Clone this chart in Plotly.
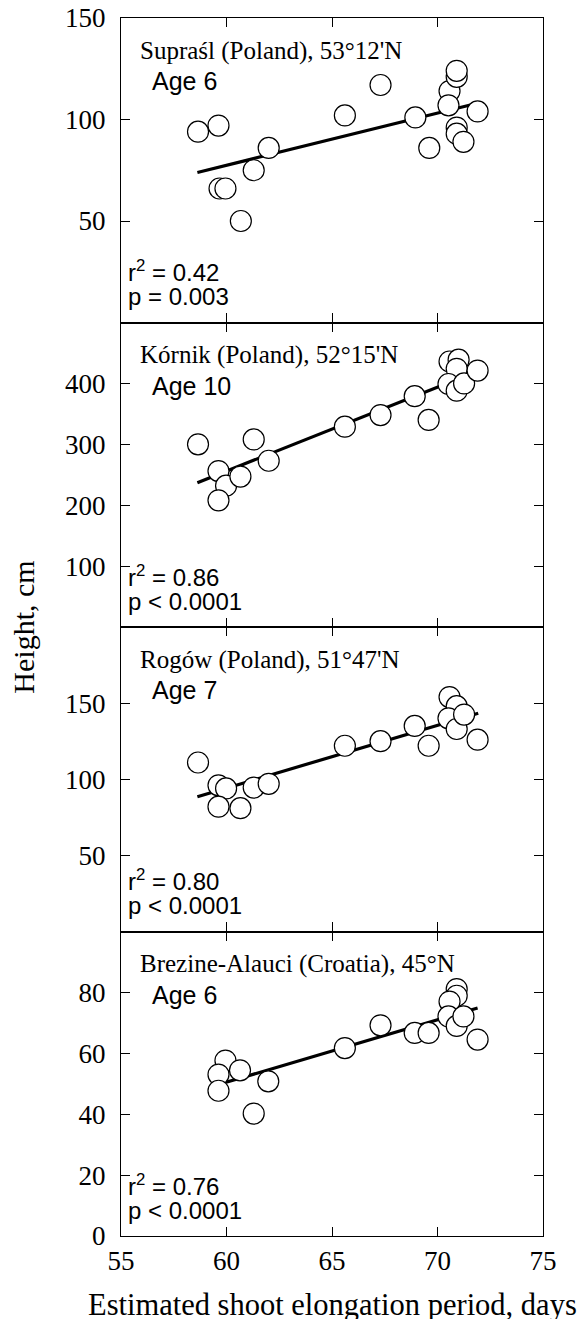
import plotly.graph_objects as go
from plotly.subplots import make_subplots

# ---- data ----
x_suprasl = [58.65, 59.62, 59.67, 59.95, 60.68, 61.29, 62.0, 65.61, 67.3, 68.95,
             69.61, 70.57, 70.52, 70.91, 70.91, 70.91, 70.91, 71.23, 71.9]
y_suprasl = [94, 97, 66, 66, 50, 75, 86, 102, 117, 101,
             86, 114, 107, 121, 124, 96, 93, 89, 104]
fit_x_suprasl = [58.62, 71.65]
fit_y_suprasl = [73.9, 107.4]

x_kornik = [58.65, 61.29, 59.62, 59.98, 59.62, 60.66, 62.0, 65.61, 67.3, 68.92,
            69.58, 70.57, 71.0, 70.91, 70.52, 70.91, 71.26, 71.9]
y_kornik = [300, 308, 256, 232, 208, 247, 273, 329, 348, 379,
            340, 436, 439, 424, 399, 388, 400, 421]
fit_x_kornik = [58.62, 71.6]
fit_y_kornik = [237, 416]

x_rogow = [58.65, 59.62, 59.98, 59.62, 60.66, 61.29, 62.0, 65.61, 67.3, 68.92,
           69.58, 70.57, 70.91, 70.52, 70.91, 71.26, 71.9]
y_rogow = [111, 96, 94, 82, 81, 94.5, 97, 122, 125, 135,
           122, 154, 148, 140, 133, 142.5, 126]
fit_x_rogow = [58.62, 71.93]
fit_y_rogow = [88.5, 143.4]

x_brezine = [59.95, 59.62, 59.62, 60.64, 61.29, 61.98, 65.61, 67.3, 68.92, 69.58,
             70.91, 70.91, 70.57, 70.52, 70.91, 71.23, 71.9]
y_brezine = [57.6, 53, 47.7, 54.4, 40.2, 50.8, 61.7, 69.2, 66.7, 66.7,
             81.1, 78.9, 77, 72.1, 69, 72.1, 64.5]
fit_x_brezine = [59.9, 71.9]
fit_y_brezine = [50.3, 74.9]

titles = ["Supraśl (Poland), 53°12'N", "Kórnik (Poland), 52°15'N",
          "Rogów (Poland), 51°47'N", "Brezine-Alauci (Croatia), 45°N"]
ages = ["Age 6", "Age 10", "Age 7", "Age 6"]
r2_texts = ["0.42", "0.86", "0.80", "0.76"]
p_texts = ["p = 0.003", "p < 0.0001", "p < 0.0001", "p < 0.0001"]

y_ranges = [[0, 150], [0, 500], [0, 200], [0, 100]]
y_tickvals = [[50, 100, 150], [100, 200, 300, 400],
              [50, 100, 150], [0, 20, 40, 60, 80]]
x_ticks = [55, 60, 65, 70, 75]

panels = [
    (x_suprasl, y_suprasl, fit_x_suprasl, fit_y_suprasl),
    (x_kornik, y_kornik, fit_x_kornik, fit_y_kornik),
    (x_rogow, y_rogow, fit_x_rogow, fit_y_rogow),
    (x_brezine, y_brezine, fit_x_brezine, fit_y_brezine),
]

SERIF = "Liberation Serif, Times New Roman, serif"
SANS = "Liberation Sans, Arial, sans-serif"

fig = make_subplots(rows=4, cols=1, vertical_spacing=0)

for i, (xs, ys, fx, fy) in enumerate(panels):
    r = i + 1
    fig.add_trace(go.Scatter(x=fx, y=fy, mode="lines",
                             line=dict(color="black", width=3.2),
                             showlegend=False, hoverinfo="skip"), row=r, col=1)
    fig.add_trace(go.Scatter(x=xs, y=ys, mode="markers",
                             marker=dict(size=21, color="white",
                                         line=dict(color="black", width=1.2)),
                             showlegend=False), row=r, col=1)
    fig.update_xaxes(range=[55, 75], tickvals=x_ticks, ticks="inside", ticklen=9,
                     tickwidth=1.4, tickcolor="black", showline=True,
                     linecolor="black", linewidth=1.3, mirror="ticks",
                     showgrid=False, zeroline=False, automargin=False,
                     showticklabels=(r == 4), ticklabeloverflow="allow",
                     tickfont=dict(family=SERIF, size=27, color="black"),
                     row=r, col=1)
    fig.update_yaxes(range=y_ranges[i], tickvals=y_tickvals[i],
                     ticks="inside", ticklen=9,
                     tickwidth=1.4, tickcolor="black", showline=True,
                     linecolor="black", linewidth=1.3, mirror="ticks",
                     showgrid=False, zeroline=False, ticklabelstandoff=9,
                     automargin=False, ticklabeloverflow="allow",
                     tickfont=dict(family=SERIF, size=27, color="black"),
                     row=r, col=1)
    xd = "x domain" if r == 1 else f"x{r} domain"
    yd = "y domain" if r == 1 else f"y{r} domain"
    fig.add_annotation(text=titles[i], xref=xd, yref=yd, x=0.04, y=0.892,
                       xanchor="left", yanchor="middle", showarrow=False,
                       font=dict(family=SERIF, size=25, color="black"))
    fig.add_annotation(text=ages[i], xref=xd, yref=yd, x=0.069, y=0.793,
                       xanchor="left", yanchor="middle", showarrow=False,
                       font=dict(family=SANS, size=25, color="black"))
    fig.add_annotation(text="r<sup>2</sup> = " + r2_texts[i], xref=xd, yref=yd,
                       x=0.012, y=0.168, xanchor="left", yanchor="middle",
                       showarrow=False,
                       font=dict(family=SANS, size=24, color="black"))
    fig.add_annotation(text=p_texts[i], xref=xd, yref=yd, x=0.012, y=0.085,
                       xanchor="left", yanchor="middle", showarrow=False,
                       font=dict(family=SANS, size=24, color="black"))

fig.add_annotation(text="Estimated shoot elongation period, days", xref="paper",
                   yref="paper", x=0.5, y=-0.057, xanchor="center",
                   yanchor="middle", showarrow=False,
                   font=dict(family=SERIF, size=30.5, color="black"))
fig.add_annotation(text="Height, cm", xref="paper", yref="paper", x=-0.233,
                   y=0.5, xanchor="center", yanchor="middle", textangle=-90,
                   showarrow=False, font=dict(family=SERIF, size=30, color="black"))

fig.update_layout(width=585, height=1319,
                  margin=dict(l=113, r=50, t=10, b=91, autoexpand=False),
                  plot_bgcolor="white", paper_bgcolor="white")

fig.write_html("out.html")
